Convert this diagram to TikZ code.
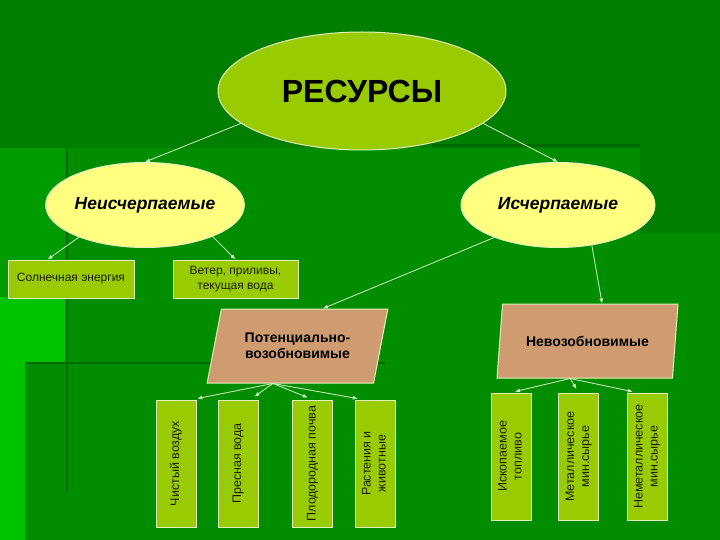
\documentclass[tikz,border=0pt]{standalone}
\usepackage{fontspec}
\setmainfont{Liberation Sans}
\usepackage{graphicx}
\usepackage{tikz}
\usetikzlibrary{positioning, shapes.geometric, arrows.meta, calc}

\definecolor{bgdark}{RGB}{0,126,0}
\definecolor{bgmid}{RGB}{0,142,0}
\definecolor{bgside}{RGB}{0,155,0}
\definecolor{bglight}{RGB}{0,196,0}
\definecolor{bgline}{RGB}{0,105,0}
\definecolor{leafgreen}{RGB}{153,204,0}
\definecolor{paleyellow}{RGB}{255,255,128}
\definecolor{tanfill}{RGB}{207,155,112}
\definecolor{edge}{RGB}{225,240,190}
\definecolor{linkcol}{RGB}{215,245,200}
\definecolor{leaftext}{RGB}{30,30,0}

\tikzset{
  oval/.style={ellipse, draw=edge, line width=1pt, inner sep=0pt},
  leaf/.style={rectangle, draw=edge, line width=1pt, fill=leafgreen, text=leaftext,
    inner sep=0pt, align=center, font=\fontsize{12}{15}\selectfont},
  upright/.style={leaf, minimum width=40pt, minimum height=127pt, font=\fontsize{12.5}{15}\selectfont},
  kind/.style={trapezium, trapezium left angle=69, trapezium right angle=111,
    trapezium stretches=true, draw=edge, line width=1pt, fill=tanfill,
    minimum width=181pt, minimum height=74pt, inner sep=0pt, align=center,
    font=\fontsize{14}{16}\selectfont\bfseries},
  link/.style={draw=linkcol, line width=0.8pt, -{Latex[length=5pt,width=4pt]}}
}

\begin{document}
\begin{tikzpicture}[x=1pt, y=-1pt]
    % background panels
    \useasboundingbox (0,0) rectangle (720,540);
    \fill[bgdark] (0,0) rectangle (720,540);
    \fill[bgmid] (0,148) rectangle (640,540);
    \fill[bgmid] (640,233) rectangle (720,540);
    \fill[bgside] (0,148) rectangle (65,297);
    \fill[bglight] (0,297) rectangle (65,540);
    \fill[bgmid] (25,363) rectangle (720,540);
    \draw[bgline, line width=3pt] (432,146) -- (640,146);
    \draw[bgline, line width=2pt] (25,363) -- (385,363);
    \draw[bgline, line width=1.5pt] (67,150) -- (67,493);

    % top levels
    \node[oval, fill=leafgreen, minimum width=288pt, minimum height=118pt,
        font=\fontsize{32}{34}\selectfont\bfseries] (res) at (362,91) {РЕСУРСЫ};
    \node[oval, fill=paleyellow, minimum width=194pt, minimum height=85pt,
        font=\fontsize{17.5}{20}\selectfont\bfseries\itshape] (neis) at (145,205) {Неисчерпаемые};
    \node[oval, fill=paleyellow, minimum width=194pt, minimum height=85pt,
        font=\fontsize{17.5}{20}\selectfont\bfseries\itshape] (isch) at (558,205) {Исчерпаемые};

    \node[leaf, minimum width=126pt, minimum height=38pt] (sun) at (71,279) {Солнечная энергия};
    \node[leaf, minimum width=125pt, minimum height=38pt] (vet) at (235.5,279) {Ветер, приливы,\\текущая вода};

    \node[kind] (pot) at (297.5,346) {Потенциально-\\возобновимые};
    \node[kind] (nev) at (587.5,341) {Невозобновимые};

    % vertical boxes
    \foreach \x/\t [count=\i] in {176/{Чистый воздух}, 238/{Пресная вода},
        312.5/{Плодородная почва}, 375/{Растения и\\животные}} {
        \node[upright] (c\i) at (\x,463.5) {\rotatebox{90}{\begin{tabular}{@{}c@{}}\t\end{tabular}}};
    }
    \foreach \x/\t [count=\i] in {511/{Ископаемое\\топливо}, 578.5/{Металлическое\\мин.сырье},
        647/{Неметаллическое\\мин.сырье}} {
        \node[upright] (r\i) at (\x,456.5) {\rotatebox{90}{\begin{tabular}{@{}c@{}}\t\end{tabular}}};
    }

    % connectors
    \draw[link] (res.195) -- (neis.north);
    \draw[link] (res.345) -- (isch.north);
    \draw[link] (neis.206) -- ($(sun.north)!.37!(sun.north west)$);
    \draw[link] (neis.335) -- (vet.north);
    \draw[link] (isch.207) -- ($(pot.north)!.28!(pot.top right corner)$);
    \draw[link] (isch.310) -- ($(nev.north)!.16!(nev.top right corner)$);

    \coordinate (potfoot) at ($(pot.south)!.27!(pot.bottom left corner)$);
    \coordinate (nevfoot) at ($(nev.south)!.19!(nev.bottom left corner)$);
    \foreach \i/\f in {1/.8, 2/.6, 3/0, 4/-.6}
        \draw[link, shorten >=5pt] (potfoot) -- ($(c\i.north)!\f!(c\i.north east)$);
    \foreach \i/\f in {1/0, 2/0, 3/-.5}
        \draw[link, shorten >=4pt] (nevfoot) -- ($(r\i.north)!\f!(r\i.north east)$);
\end{tikzpicture}
\end{document}
